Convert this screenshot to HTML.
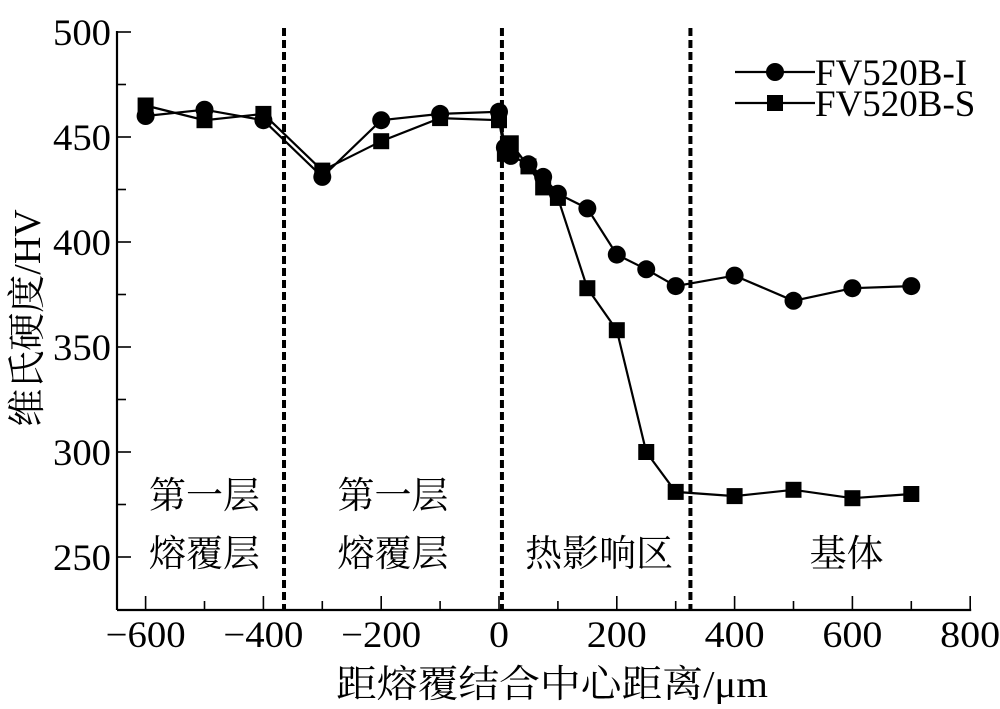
<!DOCTYPE html>
<html><head><meta charset="utf-8"><style>
body{margin:0;background:#fff}
svg text{font-family:"Liberation Serif","Noto Serif CJK SC",serif;fill:#000}
</style></head><body>
<svg id="c" width="1000" height="704" xmlns="http://www.w3.org/2000/svg"></svg>
<script>
const xsI=[-600,-500,-400,-300,-200,-100,0,10,20,50,75,100,150,200,250,300,400,500,600,700];
const valsI=[460,463,458,431,458,461,462,445,441,437,431,423,416,394,387,379,384,372,378,379];
const xsS=[-600,-500,-400,-300,-200,-100,0,10,20,50,75,100,150,200,250,300,400,500,600,700];
const valsS=[465,458,461,434,448,459,458,442,447,436,426,421,378,358,300,281,279,282,278,280];
const xTicks=[-600,-400,-200,0,200,400,600,800];
const yTicks=[250,300,350,400,450,500];
const dividers=[-365,5,325];
const regions=[{x:-500,l1:"第一层",l2:"熔覆层"},{x:-180,l1:"第一层",l2:"熔覆层"},{x:170,l1:"",l2:"热影响区"},{x:590,l1:"",l2:"基体"}];

const svg=document.getElementById('c');
const NS='http://www.w3.org/2000/svg';
const X=v=>499+(v)*0.589;
const Y=v=>32+(500-v)*2.1;
const AXB=610, AXL=117;
function mk(t,a,p){const e=document.createElementNS(NS,t);for(const k in a)e.setAttribute(k,a[k]);(p||svg).appendChild(e);return e;}
let g=mk('g',{});


mk('line',{x1:AXL,y1:31,x2:AXL,y2:AXB,stroke:'#000','stroke-width':2.2},g);
mk('line',{x1:AXL,y1:AXB,x2:X(800)+1,y2:AXB,stroke:'#000','stroke-width':2.2},g);
for(let v=-600;v<=800;v+=100){const len=v%200===0?14:9;mk('line',{x1:X(v),y1:AXB,x2:X(v),y2:AXB-len,stroke:'#000','stroke-width':1.6},g);}
xTicks.forEach(v=>{const t=mk('text',{x:X(v),y:AXB+37,'text-anchor':'middle','font-size':37,'textLength':(v<0?80:v===0?20:60),'lengthAdjust':'spacingAndGlyphs'},g);t.textContent=(v<0?'\u2212':'')+Math.abs(v);

});
for(let v=250;v<=500;v+=25){const len=v%50===0?14:9;mk('line',{x1:AXL,y1:Y(v),x2:AXL+len,y2:Y(v),stroke:'#000','stroke-width':1.6},g);}
yTicks.forEach(v=>{const t=mk('text',{x:AXL-6,y:Y(v)+13,'text-anchor':'end','font-size':37,'textLength':58,'lengthAdjust':'spacingAndGlyphs'},g);t.textContent=v;

});
let t=mk('text',{x:552,y:697,'text-anchor':'middle','font-size':38,'textLength':432,'lengthAdjust':'spacingAndGlyphs'});t.textContent='距熔覆结合中心距离/μm';


t=mk('text',{x:0,y:0,'text-anchor':'middle','font-size':38,transform:'translate(40,318) rotate(-90)'});t.textContent='维氏硬度/HV';


dividers.forEach(v=>{const l=mk('line',{x1:X(v),y1:28,x2:X(v),y2:AXB,stroke:'#000','stroke-width':4,'stroke-dasharray':'8,4'});

});
regions.forEach(r=>{if(r.l1){const a=mk('text',{x:X(r.x),y:508,'text-anchor':'middle','font-size':37});a.textContent=r.l1;

}
const b=mk('text',{x:X(r.x),y:566,'text-anchor':'middle','font-size':37});b.textContent=r.l2;

});
function series(xs,vs,shape,name){const gg=mk('g',{});


mk('polyline',{points:xs.map((x,i)=>X(x)+','+Y(vs[i])).join(' '),fill:'none',stroke:'#000','stroke-width':2.2},gg);
xs.forEach((x,i)=>{let m;if(shape==='c')m=mk('circle',{cx:X(x),cy:Y(vs[i]),r:9,fill:'#000'},gg);else m=mk('rect',{x:X(x)-8,y:Y(vs[i])-8,width:16,height:16,fill:'#000'},gg);

});}
series(xsI,valsI,'c','series-fv520b-i');
series(xsS,valsS,'s','series-fv520b-s');
const lg=mk('g',{});


[[72,'c','FV520B-I'],[103,'s','FV520B-S']].forEach(([y,s,n])=>{mk('line',{x1:735,y1:y,x2:815,y2:y,stroke:'#000','stroke-width':2.2},lg);
if(s==='c')mk('circle',{cx:775,cy:y,r:9,fill:'#000'},lg);else mk('rect',{x:767,y:y-8,width:16,height:16,fill:'#000'},lg);
const tt=mk('text',{x:815,y:y+13,'font-size':37},lg);tt.textContent=n;

});
</script>
</body></html>
